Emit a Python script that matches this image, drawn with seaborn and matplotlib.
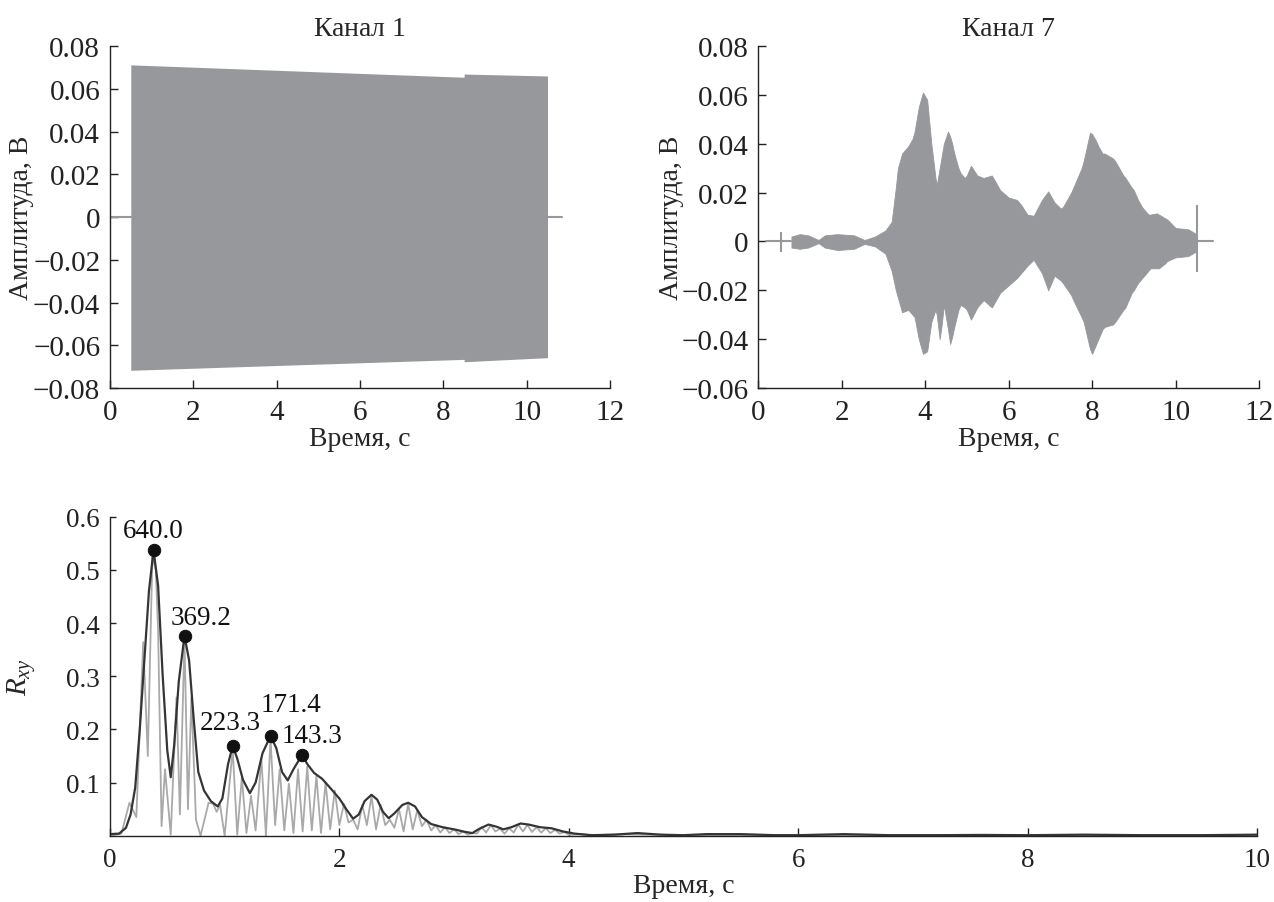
import numpy as np
import matplotlib
matplotlib.use("Agg")
import matplotlib.pyplot as plt
import seaborn as sns

# ---- данные ----
# Канал 1: огибающая сигнала
ch1_t = [0.5, 8.5, 8.5, 10.5]
ch1_upper = [0.0712, 0.0654, 0.0669, 0.0660]
ch1_lower = [-0.0717, -0.0666, -0.0677, -0.0658]
ch1_idle_t = [0.0, 0.5, np.nan, 10.5, 10.85]
ch1_idle_v = [0.0, 0.0, np.nan, 0.0, 0.0]

# Канал 7: огибающая сигнала
ch7_t = [0.8, 1.0, 1.2, 1.45, 1.6, 1.9, 2.3, 2.55, 2.8, 3.05, 3.2, 3.3, 3.35, 3.45,
         3.6, 3.7, 3.75, 3.85, 3.95, 4.05, 4.15, 4.25, 4.28, 4.35, 4.4, 4.45, 4.55,
         4.6, 4.65, 4.7, 4.8, 4.85, 4.95, 5.0, 5.1, 5.25, 5.4, 5.6, 5.8, 6.0, 6.2,
         6.3, 6.45, 6.6, 6.8, 6.95, 7.1, 7.25, 7.3, 7.5, 7.55, 7.75, 7.8, 7.95, 8.0,
         8.1, 8.15, 8.25, 8.3, 8.5, 8.55, 8.75, 8.8, 8.95, 9.0, 9.1, 9.2, 9.35, 9.4,
         9.55, 9.6, 9.75, 9.8, 10.0, 10.3, 10.5]
ch7_upper = [0.002, 0.003, 0.0025, 0.0006, 0.0025, 0.003, 0.0025, 0.0006, 0.002, 0.0045,
             0.008, 0.022, 0.030, 0.036, 0.039, 0.042, 0.045, 0.055, 0.061, 0.058,
             0.040, 0.026, 0.023, 0.030, 0.035, 0.040, 0.045, 0.043, 0.040, 0.036,
             0.030, 0.028, 0.026, 0.027, 0.031, 0.027, 0.026, 0.027, 0.021, 0.018,
             0.017, 0.015, 0.011, 0.0105, 0.017, 0.0205, 0.016, 0.0135, 0.014, 0.020,
             0.022, 0.030, 0.033, 0.0445, 0.044, 0.041, 0.039, 0.036, 0.036, 0.034,
             0.033, 0.027, 0.026, 0.022, 0.021, 0.017, 0.014, 0.011, 0.011, 0.0115,
             0.011, 0.0095, 0.009, 0.0055, 0.005, 0.003]
ch7_lower = [-0.0025, -0.003, -0.0025, -0.0007, -0.0025, -0.0035, -0.003, -0.001, -0.002, -0.005,
             -0.012, -0.020, -0.023, -0.029, -0.028, -0.030, -0.031, -0.040, -0.046, -0.045,
             -0.033, -0.028, -0.030, -0.040, -0.034, -0.026, -0.036, -0.042, -0.039, -0.035,
             -0.028, -0.026, -0.027, -0.028, -0.032, -0.027, -0.024, -0.027, -0.021, -0.018,
             -0.015, -0.013, -0.010, -0.0075, -0.013, -0.020, -0.014, -0.016, -0.017, -0.022,
             -0.024, -0.031, -0.033, -0.044, -0.046, -0.042, -0.040, -0.036, -0.035, -0.034,
             -0.033, -0.028, -0.027, -0.021, -0.020, -0.017, -0.015, -0.012, -0.011, -0.011,
             -0.011, -0.009, -0.008, -0.0065, -0.006, -0.004]
ch7_idle_t = [0.19, 0.8, np.nan, 10.5, 10.9]
ch7_idle_v = [0.0, 0.0, np.nan, 0.0, 0.0]
ch7_marks_t = [0.55, 10.51]
ch7_marks_lo = [-0.0045, -0.0124]
ch7_marks_hi = [0.004, 0.0148]

# Взаимная корреляция: сглаженная кривая
rxy_t = [0.00, 0.08, 0.14, 0.18, 0.22, 0.26, 0.30, 0.34, 0.38, 0.42, 0.46, 0.50, 0.53,
         0.56, 0.60, 0.65, 0.69, 0.73, 0.77, 0.82, 0.88, 0.94, 0.98, 1.03, 1.07, 1.11,
         1.16, 1.22, 1.27, 1.33, 1.40, 1.45, 1.50, 1.55, 1.60, 1.675, 1.72, 1.78, 1.85,
         1.92, 2.00, 2.06, 2.12, 2.17, 2.22, 2.28, 2.33, 2.38, 2.43, 2.48, 2.55, 2.60,
         2.66, 2.72, 2.80, 2.90, 3.00, 3.10, 3.16, 3.22, 3.30, 3.37, 3.43, 3.50, 3.58,
         3.65, 3.75, 3.85, 3.95, 4.05, 4.2, 4.4, 4.6, 4.8, 5.0, 5.2, 5.5, 5.8, 6.0, 6.4,
         6.8, 7.2, 7.6, 8.0, 8.5, 9.0, 9.5, 10.0]
rxy_v = [0.003, 0.004, 0.015, 0.04, 0.09, 0.20, 0.33, 0.46, 0.537, 0.47, 0.30, 0.16, 0.11,
         0.17, 0.29, 0.376, 0.33, 0.22, 0.12, 0.085, 0.065, 0.055, 0.07, 0.135, 0.169, 0.145,
         0.105, 0.080, 0.10, 0.155, 0.188, 0.165, 0.12, 0.104, 0.125, 0.152, 0.135, 0.118, 0.107,
         0.09, 0.07, 0.05, 0.032, 0.04, 0.065, 0.077, 0.068, 0.045, 0.033, 0.042, 0.058, 0.062,
         0.055, 0.035, 0.022, 0.016, 0.012, 0.007, 0.005, 0.013, 0.021, 0.017, 0.012, 0.016, 0.023,
         0.021, 0.016, 0.014, 0.008, 0.004, 0.001, 0.002, 0.005, 0.002, 0.001, 0.003, 0.003,
         0.001, 0.001, 0.003, 0.001, 0.001, 0.0015, 0.001, 0.002, 0.001, 0.001, 0.002]

# Взаимная корреляция: исходная (осциллирующая) кривая
raw_t = [0.00, 0.10, 0.17, 0.23, 0.29, 0.33, 0.37, 0.40, 0.42, 0.45, 0.48, 0.53, 0.58,
         0.61, 0.65, 0.68, 0.71, 0.75, 0.79, 0.86, 0.90, 0.93, 0.96, 1.00, 1.07, 1.11,
         1.15, 1.19, 1.23, 1.27, 1.32, 1.36, 1.40, 1.44, 1.48, 1.52, 1.56, 1.60, 1.64,
         1.68, 1.72, 1.76, 1.80, 1.84, 1.88, 1.92, 1.96, 2.00, 2.04, 2.08, 2.12, 2.16,
         2.20, 2.24, 2.28, 2.32, 2.36, 2.40, 2.44, 2.48, 2.52, 2.56, 2.60, 2.64, 2.68,
         2.72, 2.76, 2.80, 2.84, 2.88, 2.92, 2.96, 3.00, 3.04, 3.08, 3.12, 3.16, 3.20,
         3.24, 3.28, 3.32, 3.36, 3.40, 3.44, 3.48, 3.52, 3.56, 3.60, 3.64, 3.68, 3.72,
         3.76, 3.80, 3.84, 3.88, 3.92, 3.96, 4.00, 4.10, 4.20, 4.5, 5.0, 6.0, 7.0, 8.0, 10.0]
raw_v = [0.000, 0.004, 0.062, 0.035, 0.364, 0.150, 0.525, 0.500, 0.385, 0.018, 0.125, 0.002, 0.260,
         0.040, 0.370, 0.050, 0.260, 0.030, 0.000, 0.062, 0.060, 0.045, 0.058, 0.000, 0.162, 0.002,
         0.110, 0.005, 0.075, 0.010, 0.145, 0.000, 0.182, 0.020, 0.125, 0.010, 0.098, 0.005, 0.125,
         0.008, 0.130, 0.010, 0.112, 0.005, 0.100, 0.012, 0.085, 0.020, 0.060, 0.025, 0.030, 0.012,
         0.058, 0.020, 0.074, 0.012, 0.058, 0.020, 0.030, 0.015, 0.050, 0.008, 0.060, 0.012, 0.048,
         0.018, 0.030, 0.010, 0.020, 0.006, 0.016, 0.005, 0.012, 0.003, 0.008, 0.002, 0.005, 0.004,
         0.016, 0.006, 0.020, 0.008, 0.013, 0.004, 0.014, 0.006, 0.021, 0.008, 0.020, 0.007, 0.016,
         0.006, 0.014, 0.005, 0.011, 0.004, 0.007, 0.002, 0.003, 0.001, 0.003, 0.001, 0.001, 0.001,
         0.001, 0.001]

# Отмеченные максимумы
peak_t = [0.381, 0.652, 1.07, 1.404, 1.675]
peak_v = [0.537, 0.376, 0.169, 0.188, 0.152]
peak_labels = ["640.0", "369.2", "223.3", "171.4", "143.3"]
peak_offsets = [(0, 20), (16, 18), (-2, 23), (20, 31), (10, 19)]

top_xticks = [0, 2, 4, 6, 8, 10, 12]
ch1_yticks = [-0.08, -0.06, -0.04, -0.02, 0, 0.02, 0.04, 0.06, 0.08]
ch7_yticks = [-0.06, -0.04, -0.02, 0, 0.02, 0.04, 0.06, 0.08]
bot_xticks = [0, 2, 4, 6, 8, 10]
bot_yticks = [0.1, 0.2, 0.3, 0.4, 0.5, 0.6]

# ---- оформление ----
sns.set_style("ticks")
plt.rcParams["font.family"] = ["Liberation Serif", "DejaVu Serif"]
plt.rcParams["mathtext.fontset"] = "custom"
plt.rcParams["mathtext.rm"] = "Liberation Serif"
plt.rcParams["mathtext.it"] = "Liberation Serif:italic"

sig_color = "#97989c"
dark = "#353535"
light = "#a9a9a9"


def fmt(v):
    return "0" if abs(v) < 1e-12 else f"{v:.2f}".replace("-", "\u2212")


def style_axes(ax, tick_fs, ylen=6):
    sns.despine(ax=ax)
    for s in ["left", "bottom"]:
        ax.spines[s].set_linewidth(1.0)
        ax.spines[s].set_color("#222222")
    ax.tick_params(axis="x", direction="in", length=6, width=1.0, pad=8,
                   labelsize=tick_fs, colors="#222222")
    ax.tick_params(axis="y", direction="in", length=ylen, width=1.0, pad=7,
                   labelsize=tick_fs, colors="#222222")


def center_labels(ax, xl_y, yl_x):
    ax.xaxis.label.set_verticalalignment("center")
    ax.yaxis.label.set_verticalalignment("center")
    ax.xaxis.set_label_coords(0.5, xl_y)
    ax.yaxis.set_label_coords(yl_x, 0.5)


fig = plt.figure(figsize=(12.74, 9.03), dpi=100)
ax1 = fig.add_axes([0.0863, 0.5692, 0.3925, 0.3787])
ax2 = fig.add_axes([0.5950, 0.5692, 0.3933, 0.3787])
ax3 = fig.add_axes([0.0863, 0.0734, 0.9003, 0.3533])

# Канал 1
ax1.fill_between(ch1_t, ch1_lower, ch1_upper, color=sig_color, lw=0)
ax1.plot(ch1_idle_t, ch1_idle_v, color=sig_color, lw=1.5)
ax1.set_xlim(0, 12)
ax1.set_ylim(-0.08, 0.08)
ax1.set_xticks(top_xticks)
ax1.set_yticks(ch1_yticks)
ax1.set_yticklabels([fmt(v) for v in ch1_yticks])
style_axes(ax1, 21)
ax1.set_title("Канал $\\mathit{1}$", fontsize=20, pad=8)

# Канал 7
ax2.fill_between(ch7_t, ch7_lower, ch7_upper, color=sig_color, lw=0.6, edgecolor=sig_color)
ax2.plot(ch7_idle_t, ch7_idle_v, color=sig_color, lw=1.5)
ax2.vlines(ch7_marks_t, ch7_marks_lo, ch7_marks_hi, color=sig_color, lw=1.5)
ax2.set_xlim(0, 12)
ax2.set_ylim(-0.06, 0.08)
ax2.set_xticks(top_xticks)
ax2.set_yticks(ch7_yticks)
ax2.set_yticklabels([fmt(v) for v in ch7_yticks])
style_axes(ax2, 21)
ax2.set_title("Канал 7", fontsize=20, pad=8)

for ax in (ax1, ax2):
    ax.set_xlabel("Время, с", fontsize=20)
    ax.set_ylabel("Амплитуда, В", fontsize=20)
center_labels(ax1, -0.149, -0.176)
center_labels(ax2, -0.149, -0.172)

# Корреляция
sns.lineplot(x=raw_t, y=raw_v, ax=ax3, color=light, lw=1.3, sort=False)
sns.lineplot(x=rxy_t, y=rxy_v, ax=ax3, color=dark, lw=1.6, sort=False)
sns.scatterplot(x=peak_t, y=peak_v, ax=ax3, color="#111111", s=80, edgecolor="#111111",
                zorder=5)
for t, v, lab, off in zip(peak_t, peak_v, peak_labels, peak_offsets):
    ax3.annotate(lab, (t, v), xytext=off, textcoords="offset pixels",
                 ha="center", va="center", fontsize=19.5, color="#111111")
ax3.set_xlim(0, 10)
ax3.set_ylim(0, 0.6)
ax3.set_xticks(bot_xticks)
ax3.set_yticks(bot_yticks)
ax3.set_yticklabels([f"{v:.1f}" for v in bot_yticks])
style_axes(ax3, 19.5, ylen=4)
ax3.set_xlabel("Время, с", fontsize=20)
ax3.set_ylabel("$R_{xy}$", fontsize=21)
center_labels(ax3, -0.155, -0.077)

fig.savefig("out.png", dpi=100)
